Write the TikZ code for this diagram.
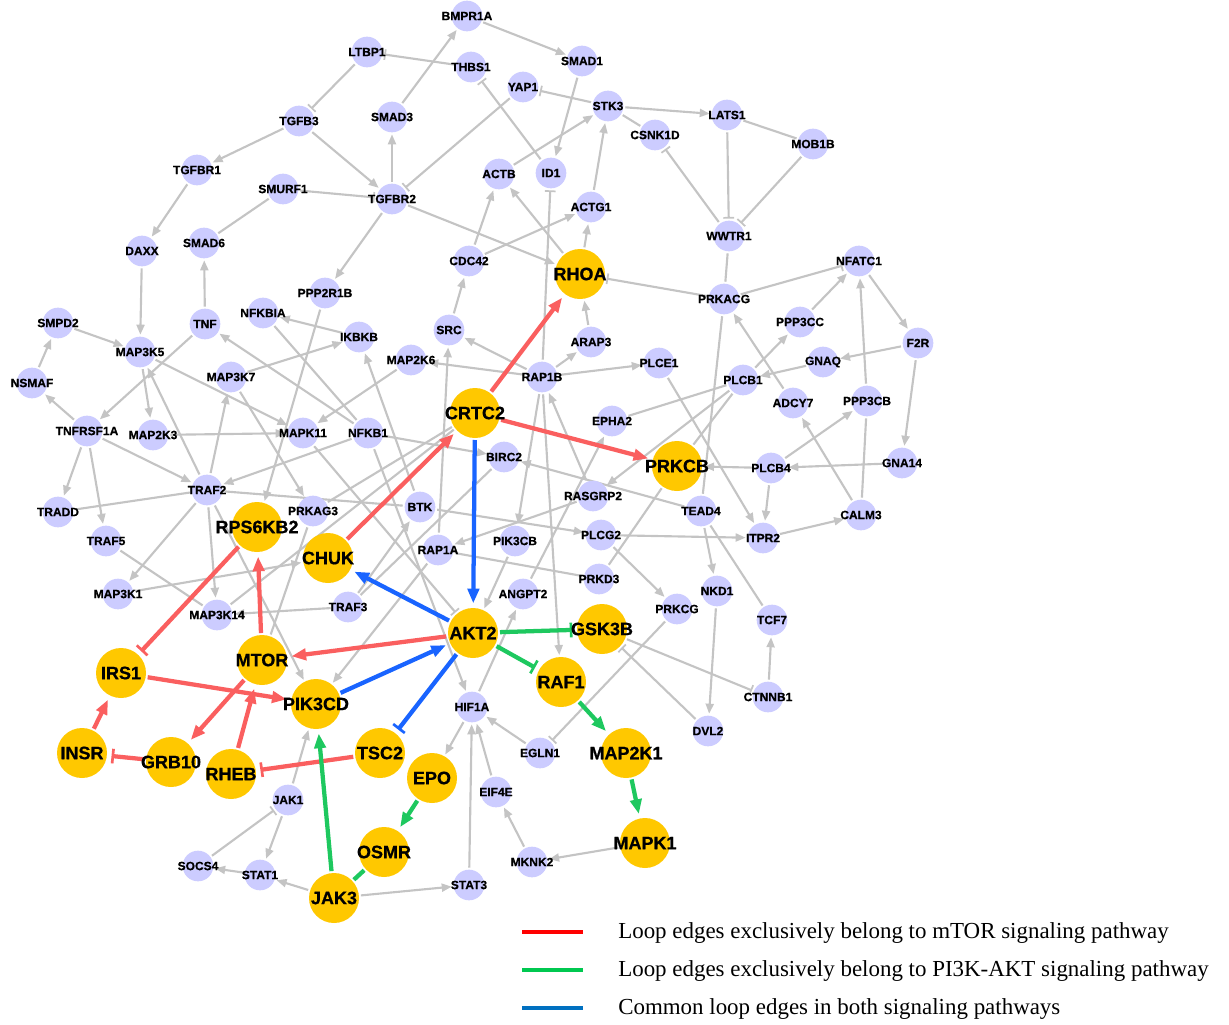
\documentclass[tikz,border=0pt]{standalone}
\usepackage{fontspec}
\setmainfont{Liberation Serif}
\newfontfamily\nodefont[BoldFeatures={FakeBold=0.6}]{Liberation Sans}
\usetikzlibrary{arrows.meta}
\definecolor{lav}{RGB}{204,204,255}
\definecolor{gold}{RGB}{255,200,0}
\definecolor{egray}{RGB}{196,196,196}
\definecolor{ered}{RGB}{250,95,95}
\definecolor{eblue}{RGB}{25,100,255}
\definecolor{egreen}{RGB}{30,200,95}
\definecolor{lred}{RGB}{255,0,0}
\definecolor{lgreen}{RGB}{0,200,80}
\definecolor{lblue}{RGB}{0,112,192}
\pgfdeclarelayer{bg}
\pgfsetlayers{bg,main}
\tikzset{
 sn/.style={circle, fill=lav, minimum size=23pt, inner sep=0pt, outer sep=1.5pt,
   label={[font=\nodefont\bfseries\fontsize{9}{10}\selectfont, inner sep=0pt]center:#1}},
 bn/.style={circle, fill=gold, minimum size=37.5pt, inner sep=0pt, outer sep=1.5pt,
   label={[font=\nodefont\bfseries\fontsize{13.5}{15}\selectfont, inner sep=0pt]center:#1}},
 ge/.style={draw=egray, line width=1.6pt},
 ga/.style={ge, -{Triangle[length=7.5pt,width=6pt]}},
 gt/.style={ge, -{Bar[width=8pt,line width=1.3pt]}},
 ce/.style={draw=#1, line width=3.2pt, shorten >=2pt},
 ca/.style={ce=#1, -{Triangle[length=11pt,width=8.5pt]}},
 ct/.style={ce=#1, -{Bar[width=11pt,line width=2pt]}},
 legline/.style={draw=#1, line width=2.4pt},
 legtext/.style={anchor=west, font=\fontsize{17.2}{19}\selectfont, inner sep=0pt}
}
\begin{document}
\begin{tikzpicture}[x=0.75pt,y=-0.75pt]
\useasboundingbox (0,0) rectangle (1229,1025);
% small nodes
\foreach \n/\x/\y in {BMPR1A/467/16, LTBP1/367/52, THBS1/471/67, SMAD1/582/61, YAP1/523/87,
 STK3/608/106, LATS1/727/115, TGFB3/299/121, SMAD3/392/117, CSNK1D/655/135, MOB1B/813/144,
 TGFBR1/197/170, ACTB/499/174, ID1/551/173, SMURF1/283/189, TGFBR2/392/199, ACTG1/591/207,
 WWTR1/729/236, SMAD6/204/243, DAXX/142/251, CDC42/469/261, NFATC1/859/261, PPP2R1B/325/293,
 PRKACG/724/299, NFKBIA/263/313, TNF/205/324, SMPD2/58/323, SRC/449/330, IKBKB/359/337,
 ARAP3/591/342, F2R/918/343, PPP3CC/800/322, MAP3K5/140/352, MAP2K6/411/360, PLCE1/659/363,
 GNAQ/823/362, MAP3K7/231/377, RAP1B/542/377, PLCB1/743/380, NSMAF/32/383, ADCY7/793/403,
 PPP3CB/867/401, EPHA2/612/421, TNFRSF1A/87/431, MAP2K3/153/435, MAPK11/303/433, NFKB1/368/433,
 BIRC2/504/457, GNA14/902/463, PLCB4/771/468, TRAF2/207/490, RASGRP2/593/496, BTK/420/507,
 PRKAG3/313/511, TRADD/58/512, TEAD4/701/511, CALM3/861/515, ITPR2/763/538, PLCG2/601/535,
 PIK3CB/515/541, TRAF5/106/541, RAP1A/438/550, PRKD3/599/579, NKD1/717/591, ANGPT2/523/594,
 MAP3K1/118/594, TRAF3/348/607, PRKCG/677/609, MAP3K14/217/615, TCF7/772/620, CTNNB1/768/697,
 HIF1A/472/707, DVL2/708/731, EGLN1/540/753, EIF4E/496/792, JAK1/288/800, MKNK2/532/862,
 SOCS4/198/866, STAT1/260/875, STAT3/469/885}
 \node[sn=\n] (\n) at (\x,\y) {};
% big nodes
\foreach \n/\x/\y in {RHOA/580/274, CRTC2/475/413, PRKCB/677/466, RPS6KB2/257/527, CHUK/328/558,
 AKT2/473/633, GSK3B/602/629, MTOR/262/660, IRS1/121/673, RAF1/561/682, PIK3CD/316/704,
 INSR/82/753, GRB10/171/762, MAP2K1/626/753, TSC2/380/753, RHEB/231/774, EPO/432/778,
 MAPK1/645/843, OSMR/384/852, JAK3/334/898}
 \node[bn=\n] (\n) at (\x,\y) {};
\begin{pgfonlayer}{bg}
\foreach \a/\b in {SMAD3/BMPR1A, BMPR1A/SMAD1, TGFB3/TGFBR1, TGFB3/TGFBR2, TGFBR2/SMAD3,
 TGFBR1/DAXX, TNF/SMAD6, DAXX/MAP3K5, TGFBR2/PPP2R1B, IKBKB/NFKBIA, TGFBR2/RHOA, SMPD2/MAP3K5,
 SMAD1/ID1, ACTB/STK3, STK3/LATS1, CDC42/ACTB, CDC42/ACTG1, RHOA/ACTB, RHOA/ACTG1, ACTG1/STK3,
 SRC/CDC42, PPP3CC/NFATC1, ARAP3/RHOA, ADCY7/PRKACG, NFATC1/F2R, PPP3CB/NFATC1, PLCB1/PPP3CC,
 GNAQ/PLCB1, F2R/GNAQ, F2R/GNA14, PLCB1/RASGRP2, PLCB4/PRKCB, GNA14/PLCB4, PLCB4/PPP3CB,
 PLCB4/ITPR2, CALM3/ADCY7, ITPR2/CALM3, PLCE1/ITPR2, RAP1B/PLCE1, RAP1B/ARAP3, RAP1B/SRC,
 RAP1B/MAP2K6, MAP2K6/MAPK11, PPP2R1B/RPS6KB2, NFKB1/TNF, MAP3K7/IKBKB, MAP3K5/MAPK11,
 MAP2K3/MAPK11, MAP3K7/PRKAG3, TRAF2/MAP3K7, NFKB1/TRAF2, NSMAF/SMPD2, TNFRSF1A/NSMAF,
 TNF/TNFRSF1A, MAP3K5/MAP2K3, TRAF2/MAP3K5, TNFRSF1A/TRAF2, TNFRSF1A/TRADD, TNFRSF1A/TRAF5,
 TRAF2/MAP3K1, TRAF2/MAP3K14, MAP3K1/CHUK, TRAF3/MAP3K14, TRAF2/PIK3CD, TRAF3/BTK, PIK3CB/AKT2,
 HIF1A/ANGPT2, NFKB1/HIF1A, RAP1B/RAF1, RAP1B/PIK3CB, RASGRP2/RAP1B, RASGRP2/RAP1A, TEAD4/BIRC2,
 NFKB1/BIRC2, BTK/IKBKB, RAP1A/SRC, RAP1A/PIK3CD, BTK/PLCG2, PLCG2/ITPR2, PLCG2/PRKCG,
 CTNNB1/TCF7, NKD1/DVL2, TEAD4/NKD1, ANGPT2/EPHA2, JAK1/PIK3CD, JAK1/STAT1, STAT1/SOCS4,
 JAK3/STAT1, JAK3/STAT3, STAT3/HIF1A, EIF4E/HIF1A, EGLN1/HIF1A, HIF1A/EPO, MKNK2/EIF4E, MAPK1/MKNK2}
 \draw[ga] (\a) -- (\b);
\foreach \a/\b in {THBS1/LTBP1, LTBP1/TGFB3, SMURF1/TGFBR2, YAP1/TGFBR2, ID1/THBS1, STK3/YAP1,
 LATS1/WWTR1, MOB1B/WWTR1, WWTR1/CSNK1D, RAP1B/ID1, PRKACG/RHOA, PRKACG/NFATC1, MAPK11/AKT2,
 DVL2/GSK3B, PRKCG/EGLN1, GSK3B/CTNNB1, SOCS4/JAK1}
 \draw[gt] (\a) -- (\b);
\foreach \a/\b in {SMURF1/SMAD6, STK3/CSNK1D, LATS1/MOB1B, WWTR1/PRKACG, PRKACG/TEAD4, EPHA2/PLCB1,
 PLCB1/PRKCB, PPP3CB/CALM3, NFKBIA/NFKB1, TRADD/TRAF2, TRAF2/BTK, TRAF5/MAP3K14, MAP3K14/CRTC2,
 PRKAG3/CRTC2, BIRC2/TRAF3, TEAD4/TCF7, PRKCB/PRKD3, RAP1A/PRKD3, PRKAG3/MTOR}
 \draw[ge] (\a) -- (\b);
% coloured loop edges
\foreach \a/\b in {CRTC2/RHOA, CRTC2/PRKCB, CHUK/CRTC2, MTOR/RPS6KB2, AKT2/MTOR, IRS1/PIK3CD,
 MTOR/GRB10, RHEB/MTOR, INSR/IRS1}
 \draw[ca=ered] (\a) -- (\b);
\foreach \a/\b in {RPS6KB2/IRS1, GRB10/INSR, TSC2/RHEB}
 \draw[ct=ered] (\a) -- (\b);
\foreach \a/\b in {CRTC2/AKT2, AKT2/CHUK, PIK3CD/AKT2}
 \draw[ca=eblue] (\a) -- (\b);
\draw[ct=eblue] (AKT2) -- (TSC2);
\foreach \a/\b in {RAF1/MAP2K1, MAP2K1/MAPK1, JAK3/PIK3CD, EPO/OSMR}
 \draw[ca=egreen] (\a) -- (\b);
\foreach \a/\b in {AKT2/GSK3B, AKT2/RAF1}
 \draw[ct=egreen] (\a) -- (\b);
\draw[ce=egreen, shorten >=0pt] (JAK3) -- (OSMR);
\end{pgfonlayer}
% legend
\coordinate (l1a) at (522,932); \coordinate (l1b) at (583,932);
\coordinate (l2a) at (522,970); \coordinate (l2b) at (583,970);
\coordinate (l3a) at (522,1008); \coordinate (l3b) at (583,1008);
\draw[legline=lred] (l1a) -- (l1b);
\draw[legline=lgreen] (l2a) -- (l2b);
\draw[legline=lblue] (l3a) -- (l3b);
\node[legtext] (t1) at (618,933) {Loop edges exclusively belong to mTOR signaling pathway};
\node[legtext] (t2) at (618,971) {Loop edges exclusively belong to PI3K-AKT signaling pathway};
\node[legtext] (t3) at (618,1009) {Common loop edges in both signaling pathways};
\end{tikzpicture}
\end{document}
